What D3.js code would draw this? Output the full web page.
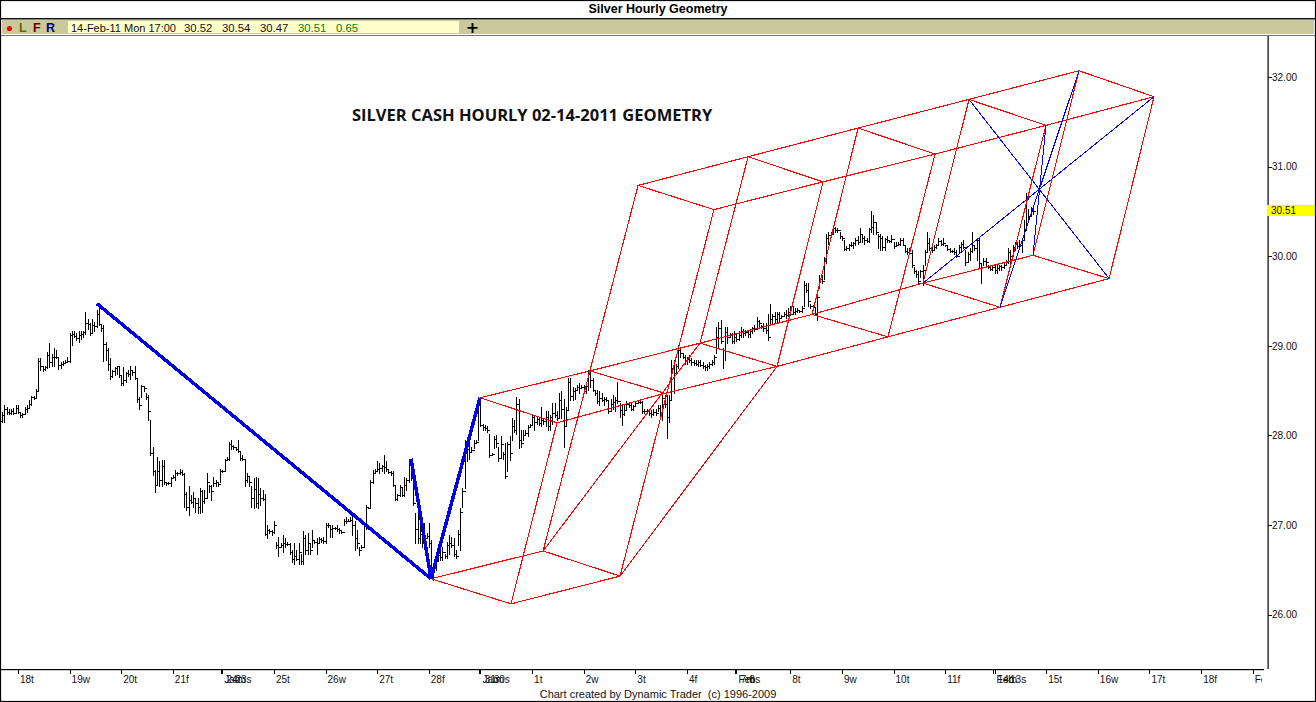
<!DOCTYPE html>
<html><head><meta charset="utf-8">
<script src="https://cdn.jsdelivr.net/npm/d3@7"></script>
<style>
html,body{margin:0;padding:0;background:#fff;overflow:hidden}
svg{display:block}
</style></head><body><svg id="c" width="1316" height="702" font-family="'Liberation Sans',Arial,sans-serif"></svg>
<script>
// ---- data ----
const chartTitle = "Silver Hourly Geometry";
const annotation = "SILVER CASH HOURLY 02-14-2011 GEOMETRY";
const credit = "Chart created by Dynamic Trader  (c) 1996-2009";
const quoteLabels = ["14-Feb-11 Mon 17:00","30.52","30.54","30.47","30.51","0.65"];
const priceTicks = [26,27,28,29,30,31,32];
const lastPrice = 30.51;
const tickBars = [8,31,54,77,98.5,99,122,145,168,191,213.5,214,237,260,283,306,327.5,328,352,375,398,421,442.5,443,466,489,512,535,558];
const labelBars = [8,31,54,77,99,100,104,122,145,168,191,214,215,219,237,260,283,306,328,329,333,352,375,398,421,443,443.5,449,466,489,512,535,558];
const labelTexts = ["18t","19w","20t","21f","Jan","24m","23s","25t","26w","27t","28f","Jan","31m","30s","1t","2w","3t","4f","Feb","7m","6s","8t","9w","10t","11f","Feb","14m","13s","15t","16w","17t","18f","Feb"];

const highs = [
28.26,28.26,28.34,28.32,28.29,28.30,28.31,28.34,28.34,28.25,28.25,28.32,28.34,28.39,28.44,28.44,28.52,28.86,28.86,28.76,
28.78,28.93,29.03,28.91,28.97,28.95,28.88,28.82,28.83,28.84,28.88,29.14,29.17,29.16,29.14,29.16,29.16,29.17,29.38,29.30,
29.25,29.30,29.27,29.40,29.47,29.23,29.23,29.04,28.97,28.86,28.73,28.76,28.78,28.78,28.67,28.76,28.71,28.73,28.77,28.73,
28.77,28.63,28.43,28.56,28.54,28.47,28.45,28.17,27.87,27.61,27.76,27.71,27.72,27.72,27.48,27.48,27.54,27.56,27.61,27.59,
27.63,27.61,27.58,27.37,27.43,27.33,27.37,27.30,27.30,27.41,27.39,27.39,27.58,27.45,27.45,27.54,27.50,27.48,27.63,27.61,
27.74,27.76,27.93,27.95,27.89,27.87,27.95,27.82,27.78,27.74,27.58,27.54,27.43,27.52,27.54,27.52,27.41,27.39,27.35,27.00,
26.96,26.94,27.04,26.81,26.87,26.80,26.89,26.85,26.81,26.80,26.72,26.80,26.72,26.80,26.68,26.93,26.89,26.91,26.80,26.94,
26.83,26.85,26.87,26.85,26.87,27.02,27.02,27.00,27.00,26.98,27.00,26.97,26.94,27.07,27.09,27.07,27.09,27.15,27.04,26.94,
26.76,26.78,27.02,27.22,27.20,27.50,27.61,27.63,27.71,27.69,27.67,27.78,27.71,27.61,27.60,27.60,27.43,27.35,27.45,27.41,
27.54,27.52,27.72,27.74,27.52,27.13,27.13,27.02,26.91,27.02,26.91,27.02,26.83,26.52,26.68,26.74,26.72,26.76,26.68,26.81,
26.89,26.87,26.85,26.72,26.94,27.19,27.41,27.95,27.97,27.95,27.87,27.95,27.95,28.41,28.41,28.13,28.12,28.10,28.02,27.80,
27.99,28.00,27.87,27.99,27.82,27.91,27.93,27.99,28.19,28.17,28.43,28.41,28.06,28.06,28.06,28.12,28.13,28.23,28.23,28.21,
28.21,28.32,28.19,28.27,28.27,28.23,28.36,28.36,28.27,28.47,28.49,28.41,28.32,28.64,28.64,28.54,28.53,28.56,28.58,28.56,
28.56,28.58,28.73,28.73,28.64,28.51,28.51,28.49,28.47,28.43,28.43,28.40,28.41,28.45,28.43,28.60,28.36,28.34,28.34,28.38,
28.36,28.36,28.34,28.38,28.38,28.40,28.38,28.30,28.30,28.28,28.28,28.30,28.30,28.34,28.34,28.47,28.45,28.45,28.45,28.84,
28.84,28.80,29.01,28.97,28.92,28.90,28.88,28.90,28.86,28.84,28.84,28.84,28.84,28.82,28.79,28.80,28.82,28.84,28.90,29.21,
29.27,29.29,28.97,29.21,29.21,29.14,29.14,29.16,29.14,29.16,29.21,29.19,29.18,29.18,29.19,29.21,29.23,29.32,29.29,29.23,
29.25,29.25,29.36,29.47,29.36,29.38,29.38,29.38,29.34,29.38,29.40,29.42,29.44,29.44,29.42,29.42,29.40,29.44,29.72,29.70,
29.70,29.47,29.45,29.42,29.58,29.79,29.79,29.99,30.25,30.27,30.27,30.35,30.33,30.31,30.27,30.22,30.18,30.11,30.14,30.16,
30.16,30.20,30.22,30.31,30.24,30.22,30.20,30.31,30.50,30.46,30.37,30.25,30.25,30.22,30.20,30.22,30.18,30.24,30.16,30.16,
30.16,30.20,30.20,30.12,30.09,30.09,30.07,29.88,29.85,29.83,29.85,29.90,30.07,30.27,30.20,30.11,30.12,30.14,30.20,30.18,
30.20,30.12,30.11,30.09,30.07,30.09,30.07,30.12,30.16,30.18,30.07,30.05,30.09,30.27,30.12,30.20,30.20,29.92,29.98,29.98,
29.90,29.90,29.90,29.90,29.90,29.90,29.90,29.92,29.96,30.09,30.07,30.12,30.16,30.16,30.18,30.20,30.40,30.70,30.53,30.55,
30.54];
const lows = [
28.15,28.15,28.15,28.24,28.24,28.24,28.24,28.25,28.25,28.21,28.20,28.24,28.26,28.32,28.34,28.41,28.43,28.49,28.73,28.72,
28.73,28.75,28.76,28.77,28.78,28.86,28.74,28.75,28.79,28.81,28.82,28.82,29.01,29.10,29.06,29.04,29.08,29.10,29.13,29.19,
29.12,29.14,29.16,29.21,29.23,29.17,28.83,28.84,28.73,28.63,28.65,28.67,28.69,28.65,28.56,28.56,28.60,28.66,28.63,28.67,
28.63,28.37,28.30,28.43,28.49,28.41,28.17,27.78,27.56,27.37,27.46,27.43,27.43,27.46,27.45,27.46,27.43,27.52,27.50,27.56,
27.57,27.56,27.20,27.17,27.11,27.24,27.20,27.15,27.13,27.13,27.15,27.24,27.30,27.37,27.28,27.43,27.43,27.43,27.48,27.59,
27.61,27.72,27.72,27.85,27.85,27.84,27.82,27.72,27.72,27.43,27.48,27.43,27.20,27.19,27.20,27.19,27.22,27.28,26.89,26.85,
26.91,26.89,26.91,26.74,26.65,26.76,26.70,26.76,26.78,26.68,26.59,26.57,26.61,26.57,26.57,26.57,26.68,26.68,26.68,26.76,
26.80,26.68,26.81,26.81,26.80,26.80,26.98,26.87,26.87,26.96,26.93,26.91,26.91,27.00,27.02,27.04,27.04,26.89,26.72,26.74,
26.67,26.74,26.76,26.96,27.19,27.20,27.47,27.58,27.60,27.58,27.60,27.58,27.60,27.58,27.56,27.43,27.28,27.28,27.32,27.32,
27.32,27.39,27.48,27.50,27.22,26.80,26.80,26.80,26.76,26.83,26.85,26.76,26.42,26.39,26.50,26.61,26.61,26.61,26.63,26.63,
26.68,26.76,26.65,26.63,26.78,26.72,27.20,27.41,27.71,27.74,27.82,27.86,27.91,27.95,28.10,28.06,28.06,28.04,27.76,27.78,
27.86,27.87,27.71,27.76,27.74,27.52,27.60,27.73,27.95,28.04,28.02,27.86,27.87,27.95,28.00,27.99,28.10,28.12,28.06,28.13,
28.12,28.10,28.13,28.10,28.06,28.06,28.13,28.21,28.17,28.21,28.19,27.87,28.10,28.30,28.40,28.40,28.41,28.51,28.47,28.53,
28.47,28.47,28.51,28.54,28.49,28.45,28.36,28.34,28.38,28.34,28.38,28.25,28.27,28.30,28.27,28.36,28.21,28.12,28.23,28.30,
28.32,28.28,28.28,28.34,28.36,28.36,28.25,28.25,28.27,28.23,28.21,28.23,28.23,28.27,28.21,28.17,28.32,27.97,28.15,28.40,
28.47,28.71,28.75,28.88,28.86,28.80,28.80,28.82,28.79,28.79,28.79,28.77,28.77,28.75,28.73,28.73,28.75,28.79,28.80,28.92,
28.97,29.03,28.75,28.84,29.03,29.10,29.03,29.03,29.05,29.07,29.10,29.10,29.12,29.10,29.10,29.14,29.16,29.20,29.20,29.20,
29.16,29.14,29.06,29.23,29.25,29.25,29.27,29.27,29.31,29.33,29.31,29.33,29.34,29.36,29.36,29.38,29.38,29.38,29.44,29.60,
29.44,29.42,29.42,29.34,29.29,29.64,29.70,29.75,29.92,30.14,30.24,30.25,30.27,30.27,30.20,30.18,30.07,30.07,30.07,30.11,
30.09,30.12,30.14,30.16,30.16,30.14,30.16,30.16,30.27,30.25,30.25,30.09,30.07,30.07,30.07,30.16,30.16,30.16,30.09,30.12,
30.12,30.12,30.12,30.05,30.03,30.03,29.88,29.81,29.77,29.70,29.77,29.68,29.90,30.05,30.07,30.05,30.07,30.09,30.12,30.12,
30.12,30.11,30.07,30.05,30.05,30.03,29.99,30.05,30.07,30.09,29.90,29.94,29.96,30.05,30.07,29.96,29.87,29.70,29.90,29.90,
29.87,29.85,29.85,29.81,29.81,29.85,29.85,29.87,29.90,29.92,29.94,30.05,30.07,30.09,30.11,30.05,30.18,30.29,30.40,30.46,
30.47];
const closes = [
28.16,28.23,28.30,28.26,28.25,28.27,28.25,28.31,28.26,28.23,28.24,28.30,28.31,28.35,28.43,28.42,28.49,28.83,28.77,28.74,
28.76,28.90,28.82,28.87,28.88,28.87,28.79,28.80,28.81,28.82,28.83,29.12,29.13,29.11,29.09,29.12,29.13,29.15,29.25,29.24,
29.14,29.23,29.22,29.35,29.24,29.20,29.02,28.95,28.80,28.66,28.72,28.75,28.77,28.67,28.58,28.62,28.70,28.68,28.73,28.71,
28.64,28.41,28.34,28.55,28.53,28.43,28.27,27.80,27.60,27.45,27.60,27.50,27.66,27.48,27.47,27.47,27.53,27.54,27.58,27.58,
27.59,27.57,27.35,27.20,27.28,27.26,27.30,27.24,27.20,27.38,27.27,27.30,27.48,27.43,27.38,27.47,27.48,27.46,27.60,27.60,
27.72,27.74,27.90,27.88,27.87,27.85,27.83,27.75,27.74,27.50,27.55,27.48,27.30,27.40,27.25,27.35,27.30,27.29,26.90,26.94,
26.93,26.92,27.00,26.78,26.75,26.78,26.80,26.79,26.79,26.70,26.62,26.65,26.62,26.70,26.60,26.85,26.72,26.80,26.72,26.83,
26.81,26.80,26.84,26.83,26.82,27.00,27.00,26.96,26.97,26.97,26.95,26.94,26.92,27.05,27.04,27.05,27.06,27.00,26.85,26.80,
26.72,26.76,27.00,27.20,27.19,27.48,27.58,27.60,27.62,27.64,27.66,27.65,27.62,27.59,27.58,27.45,27.29,27.33,27.42,27.34,
27.45,27.50,27.68,27.52,27.25,26.95,26.86,26.90,26.84,26.85,26.88,26.80,26.45,26.42,26.60,26.66,26.64,26.70,26.65,26.78,
26.80,26.78,26.68,26.65,26.90,27.15,27.38,27.90,27.85,27.82,27.84,27.92,27.93,28.35,28.12,28.09,28.08,28.06,27.78,27.79,
27.96,27.92,27.75,27.90,27.79,27.55,27.90,27.80,28.10,28.06,28.35,27.95,27.92,28.00,28.03,28.09,28.12,28.20,28.15,28.18,
28.14,28.17,28.16,28.20,28.10,28.20,28.25,28.23,28.19,28.40,28.30,28.10,28.28,28.60,28.44,28.50,28.51,28.54,28.53,28.54,
28.50,28.55,28.68,28.62,28.51,28.47,28.38,28.42,28.40,28.41,28.39,28.27,28.35,28.37,28.40,28.38,28.28,28.24,28.28,28.35,
28.34,28.30,28.33,28.36,28.37,28.37,28.27,28.27,28.28,28.25,28.24,28.26,28.25,28.31,28.24,28.42,28.35,28.20,28.40,28.75,
28.70,28.78,28.95,28.92,28.88,28.84,28.85,28.84,28.82,28.81,28.80,28.82,28.79,28.77,28.76,28.78,28.80,28.82,28.87,29.10,
29.20,29.05,28.95,29.15,29.10,29.12,29.05,29.10,29.08,29.12,29.17,29.14,29.15,29.13,29.16,29.20,29.19,29.28,29.25,29.22,
29.20,29.18,29.10,29.30,29.33,29.30,29.35,29.31,29.33,29.36,29.34,29.38,29.36,29.38,29.39,29.40,29.39,29.42,29.68,29.62,
29.50,29.44,29.43,29.36,29.55,29.75,29.72,29.95,30.20,30.24,30.25,30.32,30.29,30.29,30.23,30.20,30.08,30.09,30.12,30.13,
30.15,30.18,30.16,30.25,30.20,30.18,30.17,30.30,30.33,30.38,30.27,30.22,30.20,30.10,30.19,30.18,30.17,30.19,30.11,30.13,
30.14,30.18,30.13,30.06,30.05,30.04,29.90,29.83,29.80,29.72,29.84,29.85,30.05,30.15,30.09,30.07,30.10,30.13,30.17,30.14,
30.15,30.12,30.08,30.06,30.06,30.05,30.00,30.10,30.14,30.10,29.93,30.02,30.06,30.12,30.09,30.18,29.92,29.88,29.95,29.93,
29.88,29.86,29.88,29.85,29.87,29.89,29.88,29.90,29.94,30.05,30.00,30.10,30.14,30.11,30.13,30.18,30.30,30.64,30.45,30.50,
30.51];

// geometry pivots: name -> [bar, price]
const pivots = {
 trendTop:[43.2,29.47], apex:[192,26.40], spike:[183.1,27.74], swing:[213.8,28.42],
 b1:[227.6,26.12], b2:[241.9,26.71], b3:[276.2,26.43],
 m0:[248.1,28.14], m1:[262.8,28.72], m2:[296.2,28.47], m3:[311.8,29.03], m4:[346.1,28.77],
 m5:[361.7,29.35], m6:[395.5,29.10], m7:[411.1,29.70], m8:[445.4,29.43], m9:[460.1,30.01], m10:[494,29.75],
 t0:[284.2,30.79], t1:[333.2,31.11], t2:[382.2,31.43], t3:[431.6,31.75], t4:[480.6,32.07],
 u0:[318,30.52], u1:[366.6,30.83], u2:[416.5,31.14], u3:[465.9,31.46], u4:[514,31.78]
};
const redSegments = [
 ["apex","b2"],["apex","b1"],["b1","b3"],["b2","b3"],
 ["swing","m1"],["m1","m3"],["m3","m5"],["m5","m7"],["m7","m9"],
 ["m0","m2"],["m2","m4"],["m4","m6"],["m6","m8"],["m8","m10"],
 ["swing","m0"],["m1","m2"],["m3","m4"],["m5","m6"],["m7","m8"],["m9","m10"],
 ["t0","t1"],["t1","t2"],["t2","t3"],["t3","t4"],
 ["u0","u1"],["u1","u2"],["u2","u3"],["u3","u4"],
 ["t0","u0"],["t1","u1"],["t2","u2"],["t3","u3"],["t4","u4"],
 ["b2","t0"],["b1","m0"],["b3","u0"],["b2","m3"],["b3","m4"],
 ["m3","t1"],["m4","u1"],["m5","t2"],["m6","u2"],["m7","t3"],["m8","u3"],["m9","t4"],["m10","u4"]
];
const thickBlueSegments = [["trendTop","apex"],["spike","apex"],["apex","swing"]];
const thinBlueSegments = [["m7","u4"],["t3","m10"],["m8","t4"],["m9","u3"]];

// ---- drawing ----
const svg = d3.select("#c");
const W = 1316, H = 702;
const plotRight = 1268, plotTop = 36, plotBottom = 669;
const x = d3.scaleLinear().domain([0,563]).range([0,1264]);
const y = d3.scaleLinear().domain([26,32]).range([614.6,77]);

svg.append("rect").attr("width",W).attr("height",H).attr("fill","#fff");

// header
svg.append("text").attr("x",658).attr("y",13).attr("text-anchor","middle")
   .attr("font-size",12.5).attr("font-weight","bold").text(chartTitle);
svg.append("rect").attr("x",1).attr("y",18).attr("width",W-2).attr("height",1.5).attr("fill","#111");
svg.append("rect").attr("x",2).attr("y",20).attr("width",W-4).attr("height",14).attr("fill","#C9C99B");
svg.append("rect").attr("x",1).attr("y",35).attr("width",W-2).attr("height",1).attr("fill","#777");
svg.append("circle").attr("cx",9.5).attr("cy",28.5).attr("r",2.6).attr("fill","#f00000");
[["L",19,"#666600"],["F",33,"#660000"],["R",46,"#000080"]].forEach(d=>{
  svg.append("text").attr("x",d[1]).attr("y",32).attr("font-size",12.5).attr("font-weight","bold").attr("fill",d[2]).text(d[0]);
});
svg.append("rect").attr("x",68).attr("y",21).attr("width",391).attr("height",12).attr("fill","#FFFFCC");
const quoteX = [71,184,222,260,298,336];
const quoteColor = ["#111","#111","#111","#111","#0a7a0a","#0a7a0a"];
quoteLabels.forEach((t,i)=>{
  svg.append("text").attr("x",quoteX[i]).attr("y",32).attr("font-size",i===0?11:11.3).attr("fill",quoteColor[i]).text(t);
});
svg.append("text").attr("x",472.5).attr("y",33).attr("text-anchor","middle").attr("font-size",16).attr("font-weight","bold")
   .attr("font-family","'DejaVu Sans',sans-serif").attr("fill","#000").text("+");

// annotation
svg.append("text").attr("x",352).attr("y",121).attr("font-size",16.5)
   .attr("font-family","'Open Sans',sans-serif").attr("font-weight","bold").attr("fill","#111").text(annotation);

// price bars
const g = svg.append("g").attr("shape-rendering","crispEdges");
g.selectAll("path.bar").data(d3.range(highs.length)).join("path").attr("class","bar")
  .attr("fill","none").attr("stroke","#000").attr("stroke-width",1)
  .attr("d",i=>{
    const px = Math.round(x(i))+.5;
    const open = i>0 ? closes[i-1] : closes[0];
    return `M${px},${Math.round(y(highs[i]))}V${Math.round(y(lows[i]))+1}M${px-1.5},${Math.round(y(open))+.5}H${px}M${px},${Math.round(y(closes[i]))+.5}H${px+2}`;
  });

// geometry
function seg(list,color,w,cls){
  svg.append("g").attr("shape-rendering","crispEdges").selectAll("line").data(list).join("line")
    .attr("class",cls)
    .attr("x1",d=>x(pivots[d[0]][0])).attr("y1",d=>y(pivots[d[0]][1]))
    .attr("x2",d=>x(pivots[d[1]][0])).attr("y2",d=>y(pivots[d[1]][1]))
    .attr("stroke",color).attr("stroke-width",w);
}
seg(redSegments,"#FF0000",1.1,"red");
seg(thinBlueSegments,"#0000FF",1,"thin");
seg(thickBlueSegments,"#0000E6",3.5,"thick");

// price axis
const yAxis = d3.axisRight(y).tickValues(priceTicks).tickFormat(d3.format(".2f")).tickSize(4).tickPadding(0);
const ya = svg.append("g").attr("transform",`translate(${plotRight},0)`).call(yAxis);
ya.select(".domain").remove();
ya.selectAll("line").attr("stroke","#000").attr("shape-rendering","crispEdges");
ya.selectAll("text").attr("font-size",10).attr("fill","#111").attr("font-family","'Liberation Sans',sans-serif");
svg.append("rect").attr("x",plotRight-.5).attr("y",plotTop).attr("width",1.2).attr("height",plotBottom-plotTop).attr("fill","#000");

svg.append("rect").attr("x",1267).attr("y",205).attr("width",48).attr("height",11).attr("fill","#FFFF00");
svg.append("text").attr("x",1271).attr("y",214.3).attr("font-size",10).attr("fill","#111").text(d3.format(".2f")(lastPrice));

// time axis
svg.append("clipPath").attr("id","tc").append("rect").attr("x",0).attr("y",660).attr("width",1262).attr("height",30);
svg.append("rect").attr("x",0).attr("y",plotBottom).attr("width",1264).attr("height",1.2).attr("fill","#000");
const xAxis = d3.axisBottom(x).tickValues(tickBars).tickFormat("").tickSize(5);
const xa = svg.append("g").attr("transform",`translate(0,${plotBottom})`).call(xAxis);
xa.select(".domain").remove();
xa.selectAll("line").attr("stroke","#000").attr("shape-rendering","crispEdges");
svg.append("g").attr("clip-path","url(#tc)").selectAll("text").data(labelTexts).join("text")
  .attr("x",(d,i)=>x(labelBars[i])+2).attr("y",682.5).attr("font-size",10).attr("fill","#111").text(d=>d);

svg.append("text").attr("x",658).attr("y",698).attr("text-anchor","middle").attr("font-size",11).attr("fill","#111")
  .style("white-space","pre").text(credit);

// window frame
svg.append("rect").attr("x",.5).attr("y",.5).attr("width",W-1).attr("height",H-1).attr("fill","none").attr("stroke","#000").attr("stroke-width",1.2);
</script></body></html>
